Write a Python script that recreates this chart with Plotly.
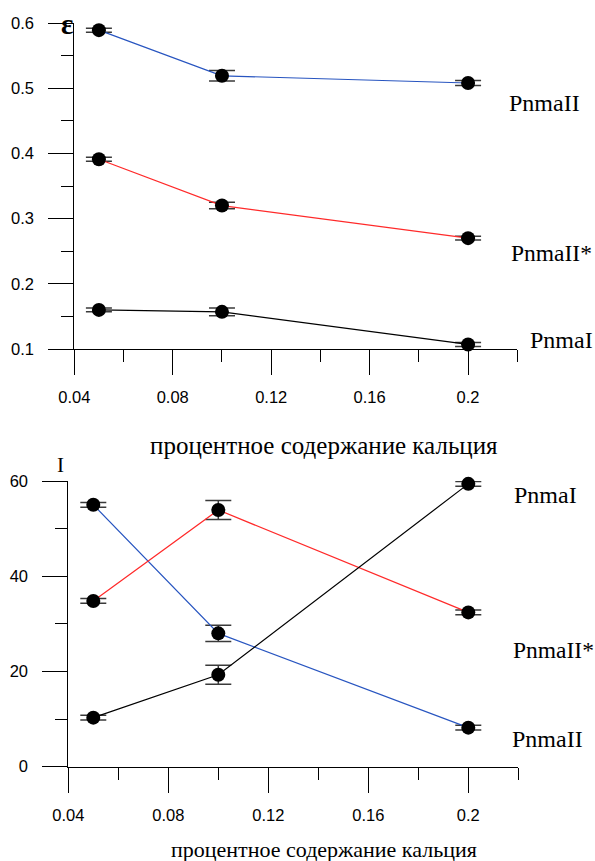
import plotly.graph_objects as go

# ---------------- data ----------------
calcium = [0.05, 0.10, 0.20]

# top chart: epsilon
eps_pnmaII = [0.589, 0.519, 0.508]
eps_pnmaII_err = [0.003, 0.008, 0.004]
eps_pnmaIIs = [0.391, 0.320, 0.270]
eps_pnmaIIs_err = [0.003, 0.005, 0.003]
eps_pnmaI = [0.160, 0.157, 0.107]
eps_pnmaI_err = [0.003, 0.006, 0.003]

# bottom chart: intensity I
I_pnmaI = [10.3, 19.3, 59.4]
I_pnmaI_err = [0.5, 2.0, 0.5]
I_pnmaIIs = [34.8, 53.9, 32.4]
I_pnmaIIs_err = [0.5, 2.0, 0.5]
I_pnmaII = [55.0, 28.0, 8.2]
I_pnmaII_err = [0.5, 1.7, 0.5]

x_tick_vals = [0.04, 0.08, 0.12, 0.16, 0.2]
x_tick_text = ["0.04", "0.08", "0.12", "0.16", "0.2"]
eps_tick_vals = [0.1, 0.2, 0.3, 0.4, 0.5, 0.6]
eps_tick_text = ["0.1", "0.2", "0.3", "0.4", "0.5", "0.6"]
I_tick_vals = [0, 20, 40, 60]
I_tick_text = ["0", "20", "40", "60"]

x_title = "процентное содержание кальция"
series_names = ["PnmaII", "PnmaII*", "PnmaI"]

# ---------------- layout helpers ----------------
W, H = 595, 861
def px(x):
    return x / W
def py(y):
    return 1 - y / H

BLUE = "#2855c0"
RED = "#ff2a2a"
BLACK = "#000000"
ERR = "#3a3a3a"

fig = go.Figure()

def add_series(xs, ys, err, color, xa, ya):
    fig.add_trace(go.Scatter(
        x=xs, y=ys, mode="lines+markers", xaxis=xa, yaxis=ya,
        line=dict(color=color, width=1.2),
        marker=dict(color="black", size=14),
        error_y=dict(type="data", array=err, visible=True,
                     color=ERR, thickness=1.5, width=13),
        showlegend=False, cliponaxis=False,
    ))

add_series(calcium, eps_pnmaII, eps_pnmaII_err, BLUE, "x", "y")
add_series(calcium, eps_pnmaIIs, eps_pnmaIIs_err, RED, "x", "y")
add_series(calcium, eps_pnmaI, eps_pnmaI_err, BLACK, "x", "y")

add_series(calcium, I_pnmaII, I_pnmaII_err, BLUE, "x2", "y2")
add_series(calcium, I_pnmaIIs, I_pnmaIIs_err, RED, "x2", "y2")
add_series(calcium, I_pnmaI, I_pnmaI_err, BLACK, "x2", "y2")

tickfont = dict(family="Liberation Sans, Arial, sans-serif", size=16.5, color="black")

def xaxis_cfg(x0, x1, anchor):
    return dict(
        domain=[px(x0), px(x1)], range=[0.04, 0.22], anchor=anchor,
        automargin=False,
        showline=True, linecolor="black", linewidth=1,
        showgrid=False, zeroline=False,
        tickmode="array", tickvals=x_tick_vals, ticktext=x_tick_text,
        ticks="outside", ticklen=25, tickwidth=1, tickcolor="black",
        minor=dict(dtick=0.02, tick0=0.04, ticks="outside", ticklen=12,
                   tickwidth=1, tickcolor="black", showgrid=False),
        tickfont=tickfont, ticklabelstandoff=8,
        fixedrange=True,
    )

def yaxis_cfg(y0, y1, rng, vals, text, dt, anchor):
    return dict(
        domain=[py(y1), py(y0)], range=rng, anchor=anchor,
        automargin=False,
        showline=True, linecolor="black", linewidth=1,
        showgrid=False, zeroline=False,
        tickmode="array", tickvals=vals, ticktext=text,
        ticks="outside", ticklen=25, tickwidth=1, tickcolor="black",
        minor=dict(dtick=dt, tick0=rng[0], ticks="outside", ticklen=12,
                   tickwidth=1, tickcolor="black", showgrid=False),
        tickfont=tickfont, ticklabelstandoff=11,
        fixedrange=True,
    )

xa1 = xaxis_cfg(74.3, 517.3, "y")
xa2 = xaxis_cfg(68.3, 518.3, "y2")
ya1 = yaxis_cfg(23, 349, [0.1, 0.6], eps_tick_vals, eps_tick_text, 0.05, "x")
ya2 = yaxis_cfg(481, 766.7, [0, 60], I_tick_vals, I_tick_text, 10, "x2")

serif = "Liberation Serif, Times New Roman, serif"
annotations = []
def label(text, x, y, size=24, xanchor="left", bold=False):
    annotations.append(dict(
        text=("<b>%s</b>" % text) if bold else text,
        x=px(x), y=py(y), xref="paper", yref="paper",
        xanchor=xanchor, yanchor="middle", showarrow=False,
        font=dict(family=serif, size=size, color="black"),
    ))

# series labels (top)
label(series_names[0], 507, 103)
label(series_names[1], 509, 253, size=23.5)
label(series_names[2], 527.7, 340)
# series labels (bottom)
label(series_names[2], 512.3, 495)
label(series_names[1], 510.5, 650, size=23.5)
label(series_names[0], 510, 739)
# axis symbols
label("ε", 66.5, 24, size=29, xanchor="center", bold=True)
label("I", 60, 465, size=21, xanchor="center")
# axis titles
label(x_title, 324, 445, size=25, xanchor="center")
label(x_title, 324, 849, size=22, xanchor="center")

fig.update_layout(
    width=W, height=H,
    margin=dict(l=0, r=0, t=0, b=0, autoexpand=False),
    paper_bgcolor="white", plot_bgcolor="white",
    xaxis=xa1, yaxis=ya1, xaxis2=xa2, yaxis2=ya2,
    annotations=annotations,
    showlegend=False,
)

fig.write_html("out.html",
               config={"displayModeBar": False, "staticPlot": True},
               post_script="document.body.style.margin='0';document.body.style.overflow='hidden';")
